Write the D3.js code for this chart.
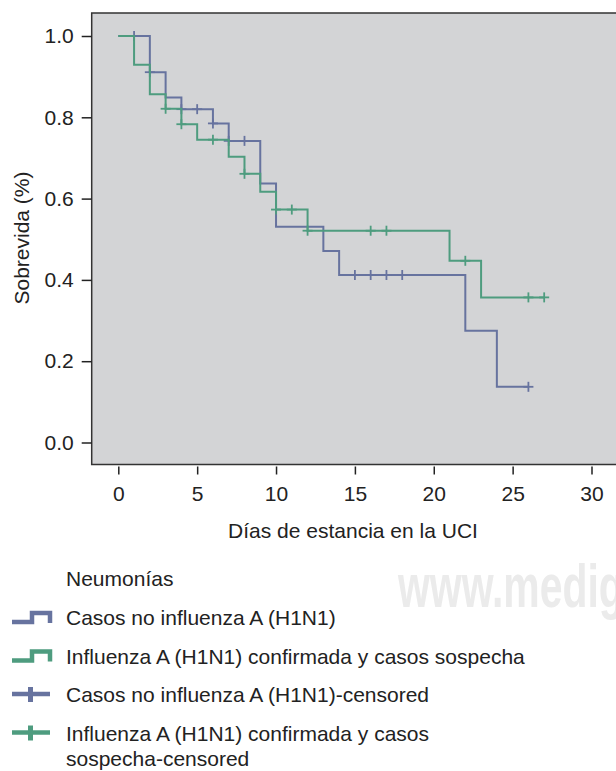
<!DOCTYPE html>
<html>
<head>
<meta charset="utf-8">
<script src="https://cdn.jsdelivr.net/npm/d3@7"></script>
<style>
  body { margin: 0; background: #fff; }
  svg { display: block; font-family: "Liberation Sans", Arial, sans-serif; }
  .axis text { font-size: 21px; fill: #222; }
  .axis line { stroke: #222; stroke-width: 1.5; }
</style>
</head>
<body>
<script>
// Kaplan-Meier steps
const blueTimes = [0, 2, 3, 4, 6, 7, 9, 10, 13, 14, 22, 24, 26];
const blueSurv  = [1.0, 0.911, 0.849, 0.820, 0.785, 0.742, 0.637, 0.531, 0.471, 0.412, 0.275, 0.137, 0.137];
const blueCens  = [1, 2, 4, 5, 6, 7, 8, 15, 16, 17, 18, 26];

const greenTimes = [0, 1, 2, 3, 4, 5, 7, 8, 9, 10, 12, 21, 23, 27];
const greenSurv  = [1.0, 0.929, 0.857, 0.821, 0.783, 0.745, 0.703, 0.661, 0.617, 0.573, 0.521, 0.447, 0.357, 0.357];
const greenCens  = [3, 4, 6, 8, 10, 11, 12, 16, 17, 22, 26, 27];

const xTicks = [0, 5, 10, 15, 20, 25, 30];
const yTicks = [0, 0.2, 0.4, 0.6, 0.8, 1.0];

const legendTitle = "Neumonías";
const legendLabels = [
  ["Casos no influenza A (H1N1)"],
  ["Influenza A (H1N1) confirmada y casos sospecha"],
  ["Casos no influenza A (H1N1)-censored"],
  ["Influenza A (H1N1) confirmada y casos", "sospecha-censored"]
];

const blue = "#67739f", green = "#4e9c7f";

const svg = d3.select("body").append("svg").attr("width", 616).attr("height", 771);

const x = d3.scaleLinear().domain([0, 30]).range([118.3, 591.5]);
const y = d3.scaleLinear().domain([0, 1]).range([442.5, 36]);

// watermark (runs off the right edge, as in the source)
svg.append("text").attr("transform", "translate(398,607) scale(0.66,1)")
  .attr("font-size", 62).attr("font-weight", "bold").attr("fill", "#ebebeb")
  .text("www.medigraphic.com");

// plot frame
svg.append("rect").attr("x", 91.7).attr("y", 13).attr("width", 600).attr("height", 451.5)
  .attr("fill", "#d3d4d6").attr("stroke", "#333").attr("stroke-width", 1.5);

svg.append("g").attr("class", "axis").attr("transform", "translate(91.7,0)")
  .call(d3.axisLeft(y).tickValues(yTicks).tickFormat(d3.format(".1f")).tickSize(10).tickPadding(8))
  .call(g => g.select(".domain").remove());

svg.append("g").attr("class", "axis").attr("transform", "translate(0,466.5)")
  .call(d3.axisBottom(x).tickValues(xTicks).tickSize(8).tickPadding(12))
  .call(g => g.select(".domain").remove());

svg.append("text").attr("x", 353).attr("y", 538).attr("text-anchor", "middle")
  .attr("font-size", 21).attr("fill", "#222").text("Días de estancia en la UCI");

svg.append("text").attr("transform", "translate(29,238) rotate(-90)").attr("text-anchor", "middle")
  .attr("font-size", 21).attr("fill", "#222").text("Sobrevida (%)");

const step = d3.line().x(d => x(d[0])).y(d => y(d[1])).curve(d3.curveStepAfter);

function survAt(times, surv, t) {
  let s = surv[0];
  times.forEach((tt, i) => { if (tt <= t) s = surv[i]; });
  return s;
}

function drawCurve(times, surv, cens, color) {
  const pts = times.map((t, i) => [t, surv[i]]);
  svg.append("path").attr("d", step(pts)).attr("fill", "none")
    .attr("stroke", color).attr("stroke-width", 2);
  const g = svg.append("g").attr("stroke", color).attr("stroke-width", 1.8);
  cens.forEach(t => {
    const cx = x(t), cy = y(survAt(times, surv, t));
    g.append("line").attr("x1", cx).attr("x2", cx).attr("y1", cy - 5).attr("y2", cy + 5);
    g.append("line").attr("x1", cx - 5).attr("x2", cx + 5).attr("y1", cy).attr("y2", cy);
  });
}

drawCurve(blueTimes, blueSurv, blueCens, blue);
drawCurve(greenTimes, greenSurv, greenCens, green);

// legend
const leg = svg.append("g").attr("font-size", 21).attr("fill", "#222");
leg.append("text").attr("x", 66).attr("y", 586).text(legendTitle);
const rowBase = [625, 663.5, 702, 740.5];
legendLabels.forEach((lines, i) => {
  lines.forEach((l, j) => leg.append("text").attr("x", 66).attr("y", rowBase[i] + j * 25).text(l));
  const c = (i % 2 === 0) ? blue : green;
  const cy = rowBase[i] - 7;
  if (i < 2) {
    svg.append("path").attr("d", `M12,${cy + 4} H32 V${cy - 5} H50 V${cy + 5}`)
      .attr("fill", "none").attr("stroke", c).attr("stroke-width", 4.5);
  } else {
    svg.append("line").attr("x1", 12).attr("x2", 50).attr("y1", cy - 1).attr("y2", cy - 1)
      .attr("stroke", c).attr("stroke-width", 4.5);
    svg.append("line").attr("x1", 30.5).attr("x2", 30.5).attr("y1", cy - 8).attr("y2", cy + 7)
      .attr("stroke", c).attr("stroke-width", 5);
  }
});
</script>
</body>
</html>
